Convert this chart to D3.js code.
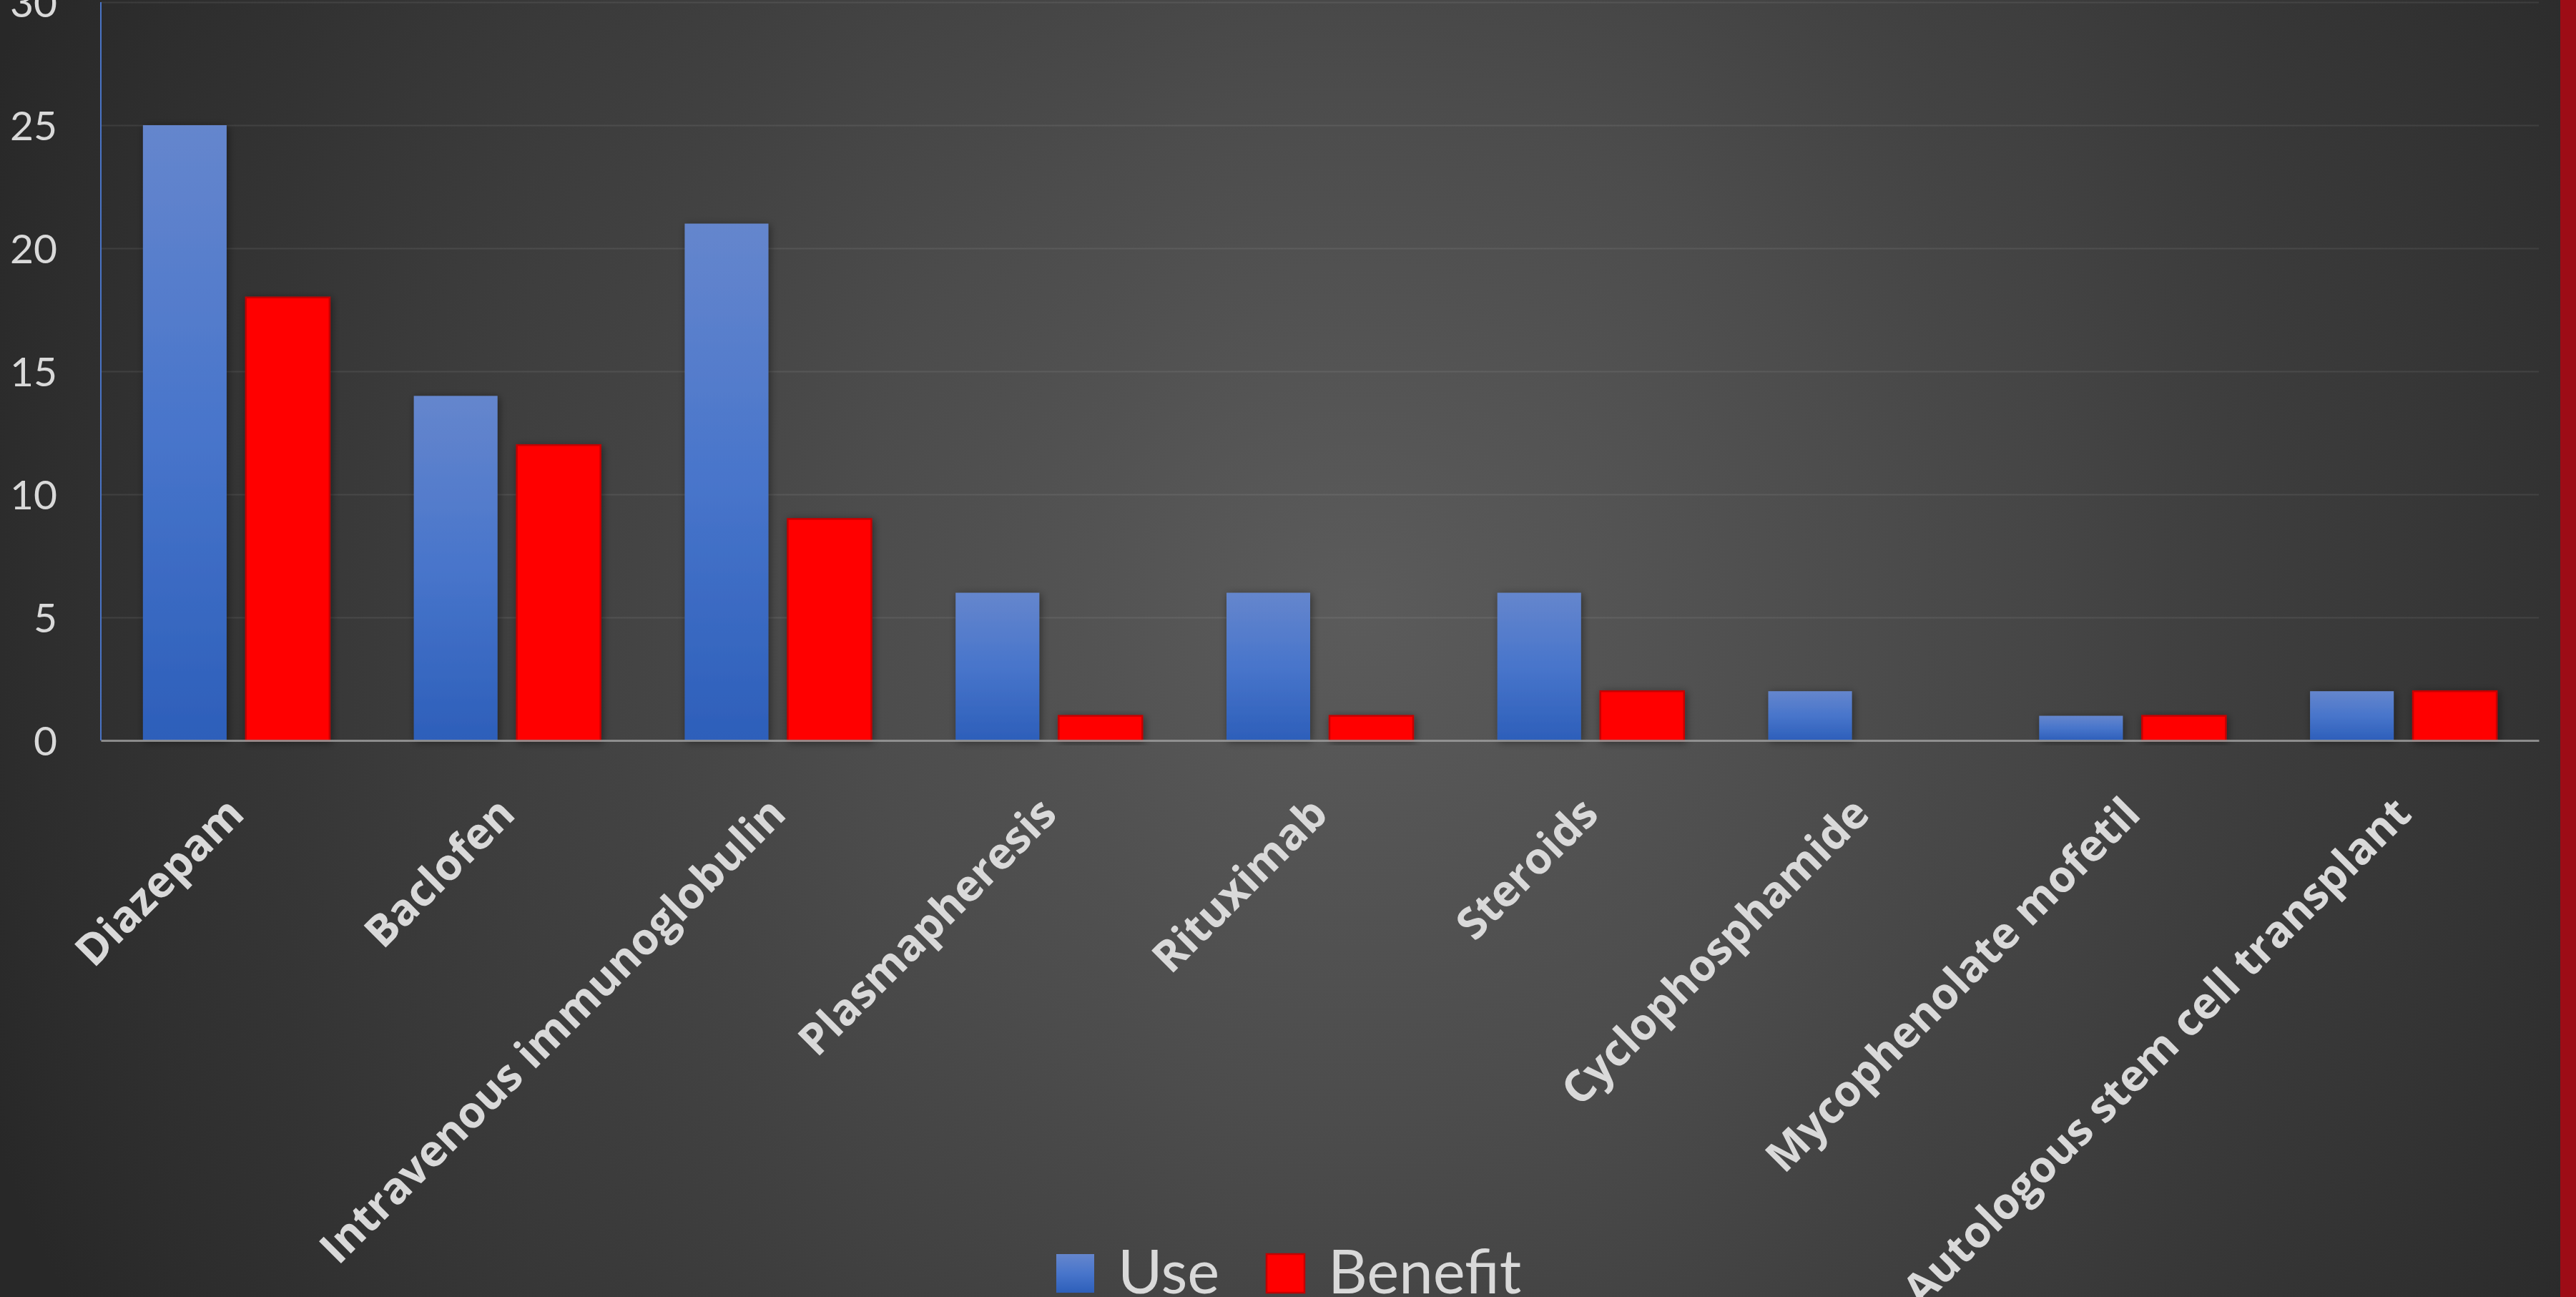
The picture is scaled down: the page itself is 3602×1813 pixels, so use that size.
<!DOCTYPE html>
<html>
<head>
<meta charset="utf-8">
<script src="https://cdn.jsdelivr.net/npm/d3@7"></script>
<style>
  html, body { margin: 0; padding: 0; background: #2a2a2a; overflow: hidden; }
  svg { display: block; }
</style>
</head>
<body>
<div id="chart"></div>
<script>
// chart data
const categories = ["Diazepam", "Baclofen", "Intravenous immunoglobulin", "Plasmapheresis",
  "Rituximab", "Steroids", "Cyclophosphamide", "Mycophenolate mofetil", "Autologous stem cell transplant"];
const series = ["Use", "Benefit"];
const useValues = [25, 14, 21, 6, 6, 6, 2, 1, 2];
const benefitValues = [18, 12, 9, 1, 1, 2, 0, 1, 2];
const yTicks = [0, 5, 10, 15, 20, 25, 30];

const width = 3602;
const height = 1813;
const plotLeft = 141, plotRight = 3550, plotTop = 3, plotBottom = 1035;
const font = "Lato, 'Open Sans', sans-serif";
const labelFont = "'Open Sans', Lato, sans-serif";
const textColor = "#d9d9d9";

const svg = d3.select("#chart").append("svg")
  .attr("width", width)
  .attr("height", height);

const defs = svg.append("defs");

// background glow
const bg = defs.append("radialGradient")
  .attr("id", "bg")
  .attr("gradientUnits", "userSpaceOnUse")
  .attr("cx", 1900).attr("cy", 850).attr("r", 2050);
bg.append("stop").attr("offset", "0%").attr("stop-color", "#5b5b5b");
bg.append("stop").attr("offset", "35%").attr("stop-color", "#4c4c4c");
bg.append("stop").attr("offset", "100%").attr("stop-color", "#282828");

const blue = defs.append("linearGradient")
  .attr("id", "blue")
  .attr("x1", 0).attr("y1", 0).attr("x2", 0).attr("y2", 1);
blue.append("stop").attr("offset", "0%").attr("stop-color", "#6586cd");
blue.append("stop").attr("offset", "50%").attr("stop-color", "#4875cb");
blue.append("stop").attr("offset", "100%").attr("stop-color", "#2d5fba");

const shadow = defs.append("filter")
  .attr("id", "shadow")
  .attr("x", "-20%").attr("y", "-20%").attr("width", "140%").attr("height", "140%");
shadow.append("feDropShadow")
  .attr("dx", 2).attr("dy", 2)
  .attr("stdDeviation", 6)
  .attr("flood-color", "#000")
  .attr("flood-opacity", 0.45);

svg.append("rect")
  .attr("width", width).attr("height", height)
  .attr("fill", "url(#bg)");

// red stripe on the right
svg.append("rect")
  .attr("x", 3580).attr("y", 0)
  .attr("width", width - 3580).attr("height", height)
  .attr("fill", "#9d0c16");

// scales
const x0 = d3.scaleBand()
  .domain(categories)
  .range([plotLeft, plotRight]);

const x1 = d3.scaleBand()
  .domain(series)
  .range([0, x0.bandwidth()])
  .paddingInner(0.1875)
  .paddingOuter(0.409);

const y = d3.scaleLinear()
  .domain([0, 30])
  .range([plotBottom, plotTop]);

// gridlines + y labels
const yAxis = svg.append("g")
  .attr("transform", "translate(" + plotLeft + ",0)")
  .call(d3.axisLeft(y).tickValues(yTicks).tickSize(-(plotRight - plotLeft)).tickPadding(61));
yAxis.select(".domain").remove();
yAxis.selectAll(".tick line")
  .attr("stroke", "#fff")
  .attr("stroke-opacity", 0.08)
  .attr("stroke-width", 2);
yAxis.selectAll(".tick text")
  .attr("fill", textColor)
  .attr("font-family", font)
  .attr("font-size", 57)
  .attr("dy", "0.36em");

// vertical axis line
svg.append("line")
  .attr("x1", plotLeft).attr("x2", plotLeft)
  .attr("y1", y(30)).attr("y2", y(0))
  .attr("stroke", "#4a74c6")
  .attr("stroke-width", 2);

const data = categories.map((c, i) => ({cat: c, Use: useValues[i], Benefit: benefitValues[i]}));

const groups = svg.append("g")
  .selectAll("g")
  .data(data)
  .enter()
  .append("g")
  .attr("transform", d => "translate(" + x0(d.cat) + ",0)");

groups.selectAll("rect")
  .data(d => series.map(s => ({key: s, value: d[s]})).filter(e => e.value > 0))
  .enter()
  .append("rect")
  .attr("x", d => x1(d.key))
  .attr("y", d => y(d.value))
  .attr("width", x1.bandwidth())
  .attr("height", d => y(0) - y(d.value))
  .attr("fill", d => d.key == "Use" ? "url(#blue)" : "#ff0000")
  .attr("stroke", d => d.key == "Use" ? "none" : "#c40000")
  .attr("stroke-width", 2.5)
  .attr("filter", "url(#shadow)");

// x axis with rotated labels
const xAxis = svg.append("g")
  .attr("transform", "translate(0," + plotBottom + ")")
  .call(d3.axisBottom(x0).tickSize(0));
xAxis.select(".domain")
  .attr("stroke", "#9a9a9a")
  .attr("stroke-opacity", 0.85)
  .attr("stroke-width", 3);
xAxis.selectAll(".tick text")
  .attr("x", 0).attr("y", 0).attr("dy", 0)
  .attr("transform", "translate(14,106) rotate(-45)")
  .style("text-anchor", "end")
  .attr("fill", textColor)
  .attr("font-family", labelFont)
  .attr("font-weight", "bold")
  .attr("font-size", 61);

// legend
const legend = svg.append("g");
const legendItems = [
  {key: "Use", x: 1477, fill: "url(#blue)", stroke: "none"},
  {key: "Benefit", x: 1771, fill: "#ff0000", stroke: "#c40000"}
];
legendItems.forEach(item => {
  legend.append("rect")
    .attr("x", item.x).attr("y", 1753)
    .attr("width", 53).attr("height", 54)
    .attr("fill", item.fill)
    .attr("stroke", item.stroke)
    .attr("stroke-width", 2.5);
  legend.append("text")
    .attr("x", item.x + 86)
    .attr("y", 1808)
    .attr("fill", textColor)
    .attr("font-family", font)
    .attr("font-size", 85)
    .text(item.key);
});
</script>
</body>
</html>
